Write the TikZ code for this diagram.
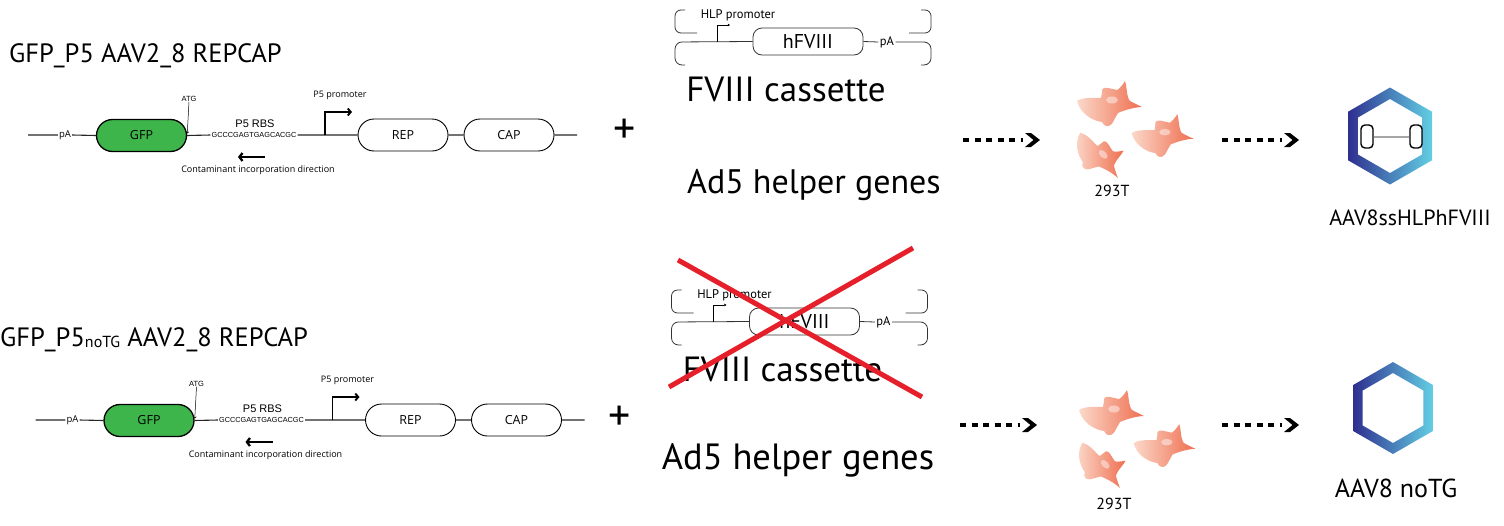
\documentclass[tikz,border=0pt]{standalone}
\usepackage{fontspec}
\setmainfont{PT Sans}
\newfontfamily\osans{Open Sans}
\newfontfamily\arialf{Liberation Sans}
\usetikzlibrary{arrows.meta,shapes.misc,calc}

\definecolor{gfpgreen}{HTML}{3DB54A}
\definecolor{crossred}{HTML}{E5202A}
\definecolor{hexdark}{HTML}{2E2F8F}
\definecolor{hexmid}{HTML}{3F7CC4}
\definecolor{hexlight}{HTML}{62CFE4}
\definecolor{celllight}{HTML}{FBD8C9}
\definecolor{celldark}{HTML}{EE6E4F}

\newcommand\fsz[1]{\fontsize{#1}{#1}\selectfont}

% outline of one 293T cell, centred on its body
\newcommand\cellpath{(-33,-2) .. controls (-30,10) and (-18,18) .. (-8,19)
  -- (-6,22) .. controls (-3,24) and (1,24) .. (4,17) -- (8,10)
  .. controls (17,6) and (27,4) .. (32,4) .. controls (26,1) and (21,-1) .. (19,-3)
  .. controls (16,-10) and (17,-17) .. (15,-22) .. controls (12,-17) and (9,-14) .. (7,-13)
  -- (-2,-15) .. controls (-6,-16) and (-9,-14) .. (-8,-11) -- (-9,-5)
  .. controls (-17,-5) and (-27,-6) .. (-33,-2) -- cycle}

% pointy-topped hexagon around a named coordinate
\newcommand\hexpath[2]{([shift={(90:#2)}]#1) -- ([shift={(30:#2)}]#1) -- ([shift={(-30:#2)}]#1)
  -- ([shift={(-90:#2)}]#1) -- ([shift={(-150:#2)}]#1) -- ([shift={(150:#2)}]#1) -- cycle}

\tikzset{
  wire/.style={line width=1.1pt, black!85},
  thinwire/.style={line width=0.8pt, black!80},
  gene/.style={rounded rectangle, draw=black, line width=0.9pt, minimum width=90pt,
    minimum height=32pt, inner sep=0pt, font=\osans\fsz{12.5}},
  gfpbox/.style={gene, fill=gfpgreen, line width=1.3pt},
  tag/.style={inner sep=1pt, font=\osans\fsz{9.5}},
  small/.style={inner sep=0pt, font=\osans\fsz{9}},
  atgtxt/.style={inner sep=0pt, font=\arialf\fsz{7.5}},
  rbstxt/.style={inner sep=0pt, font=\arialf\fsz{11}},
  seqtxt/.style={inner sep=1pt, font=\arialf\fsz{7.3}},
  promarrow/.style={line width=1.9pt, -{Straight Barb[length=3pt,width=7pt]}},
  contarrow/.style={line width=2.3pt, -{Straight Barb[length=3pt,width=8pt]}},
  atgarrow/.style={line width=0.5pt, -{Straight Barb[length=1.5pt,width=3pt]}},
  hlparrow/.style={line width=0.6pt, -{Triangle[length=2.2pt,width=2.6pt]}},
  fbox/.style={draw=black!80, line width=0.8pt, rounded corners=9pt, minimum width=110pt,
    minimum height=27pt, inner sep=0pt, font=\fsz{20}},
  fpa/.style={inner sep=1.5pt, font=\fsz{12.5}},
  hlptxt/.style={inner sep=0pt, font=\fsz{12.5}},
  cassettetxt/.style={inner sep=0pt, font=\fsz{35}},
  helpertxt/.style={inner sep=0pt, font=\fsz{#1}},
  title/.style={inner sep=0pt, font=\fsz{26.5}},
  plus/.style={inner sep=0pt, font=\fsz{44}},
  crossline/.style={crossred, line width=5pt},
  dotline/.style={line width=3.6pt, dash pattern=on 6pt off 5.5pt},
  celllabel/.style={inner sep=0pt, font=\fsz{16}},
  hexlabel/.style={inner sep=0pt, font=\fsz{#1}},
  hexring/.style={even odd rule, left color=hexdark, middle color=hexmid, right color=hexlight},
  itrend/.style={draw=black, line width=1.4pt, rounded corners=4pt, minimum width=12pt,
    minimum height=23pt, inner sep=0pt},
  barline/.style={line width=2pt, gray!70},
  cell/.pic={
    \path[left color=celllight, right color=celldark] \cellpath;
    \fill[white, opacity=.45] (2,-3) ellipse (6 and 3.5);
  }
}

% dotted arrow with a bold chevron head
\newcommand\dotarrow[3]{%
  \coordinate (#1-s) at (#2,#3);
  \coordinate (#1-e) at ({#2+60},#3);
  \draw[dotline] (#1-s) -- (#1-e);
  \fill ({#2+62},{#3-7}) -- ({#2+68},{#3-7}) -- ({#2+77},#3) -- ({#2+68},{#3+7})
    -- ({#2+62},{#3+7}) -- ({#2+70.5},#3) -- cycle;}

\begin{document}
\begin{tikzpicture}[x=1pt, y=-1pt]
\useasboundingbox (0,0) rectangle (1504,525);

% construct titles
\node[title, anchor=west] (t-title) at (9,56) {GFP\_P5 AAV2\_8 REPCAP};
\node[title, anchor=west] (b-title) at (0,340) {GFP\_P5\raisebox{-1pt}{\fsz{16}noTG} AAV2\_8 REPCAP};

% the two REP/CAP constructs
\foreach \p/\dx/\dy in {t/0/0, b/7.5/285}{
\begin{scope}[shift={(\dx,\dy)}]
  \coordinate (\p-L) at (28,135);
  \node[tag] (\p-pa) at (65,135) {pA};
  \node[gfpbox] (\p-gfp) at (141.5,135.5) {GFP};
  \node[seqtxt] (\p-seq) at (254,135) {GCCCGAGTGAGCACGC};
  \node[rbstxt] (\p-rbs) at (255,124) {P5 RBS};
  \node[atgtxt] (\p-atg) at (189,99) {ATG};
  \coordinate (\p-prm) at (325,135);
  \coordinate (\p-prmtip) at (352,112);
  \node[small] (\p-prmtxt) at (340,95) {P5 promoter};
  \node[gene] (\p-rep) at (403,135) {REP};
  \node[gene] (\p-cap) at (509,135) {CAP};
  \coordinate (\p-R) at (577,135);
  \draw[wire] (\p-L) -- (\p-pa.west) (\p-pa.east) -- (\p-gfp.west)
    (\p-gfp.east) -- (\p-seq.west) (\p-seq.east) -- (\p-rep.west)
    (\p-rep.east) -- (\p-cap.west) (\p-cap.east) -- (\p-R);
  \draw[promarrow] (\p-prm) |- (\p-prmtip);
  \draw[atgarrow, shorten >=2pt] (\p-atg.south) -- (\p-gfp.east);
  \coordinate (\p-ca) at (265,157);
  \coordinate (\p-cb) at (238,157);
  \draw[contarrow] (\p-ca) -- (\p-cb);
  \node[small] (\p-cont) at (258,170) {Contaminant incorporation direction};
\end{scope}}

\node[plus] (t-plus) at (625,131) {+};
\node[plus] (b-plus) at (620,418) {+};

% the two FVIII cassettes
\foreach \p/\dx/\dy in {t/0/0, b/-3.5/280}{
\begin{scope}[shift={(\dx,\dy)}]
  \node[fbox] (\p-hf) at (808,41.5) {hFVIII};
  \node[fpa] (\p-fpa) at (887,42) {pA};
  \node[hlptxt] (\p-hlp) at (738,15) {HLP promoter};
  \draw[thinwire, rounded corners=7pt] (\p-hf.west) -- (675,42) -- (675,65) -- (685,65);
  \draw[thinwire, rounded corners=6pt] (685,10) -- (675,10) -- (675,33) -- (697,33);
  \draw[thinwire, rounded corners=7pt] (\p-fpa.east) -- (931,42) -- (931,65) -- (921,65);
  \draw[thinwire, rounded corners=6pt] (921,10) -- (931,10) -- (931,33) -- (909,33);
  \draw[thinwire] (\p-hf.east) -- (\p-fpa.west);
  \coordinate (\p-hp) at (717,42);
  \coordinate (\p-hpt) at (730,25);
  \draw[hlparrow] (\p-hp) |- (\p-hpt);
  \node[cassettetxt] (\p-fc) at (786,89) {FVIII cassette};
\end{scope}}

\node[helpertxt=34] (t-ad5) at (814,185) {Ad5 helper genes};
\node[helpertxt=36.5] (b-ad5) at (798,460) {Ad5 helper genes};

% cassette struck out in the lower row
\coordinate (x1a) at (678,260);
\coordinate (x1b) at (922,397);
\coordinate (x2a) at (913,248);
\coordinate (x2b) at (669,387);
\draw[crossline] (x1a) -- (x1b) (x2a) -- (x2b);

% dotted arrows
\dotarrow{a1}{963}{140}
\dotarrow{a2}{1222}{140}
\dotarrow{a3}{960}{425}
\dotarrow{a4}{1222}{425}

% producer cells
\pic at (1110,103) {cell};
\pic[scale=.95] at (1163,135) {cell};
\pic[rotate=-45, scale=.9] at (1100,155) {cell};
\node[celllabel] (t-293) at (1112,191) {293T};
\pic at (1112,412) {cell};
\pic[scale=.95] at (1165,445) {cell};
\pic[rotate=-45, scale=.9] at (1102,465) {cell};
\node[celllabel] (b-293) at (1114,504) {293T};

% capsids
\coordinate (t-hex) at (1390,136);
\path[hexring] \hexpath{t-hex}{48.5} \hexpath{t-hex}{37};
\node[itrend] (t-dl) at (1367,136.5) {};
\node[itrend] (t-dr) at (1416,136.5) {};
\draw[barline] (t-dl.east) -- (t-dr.west);
\node[hexlabel=22] (t-aav) at (1410,218) {AAV8ssHLPhFVIII};

\coordinate (b-hex) at (1393,408);
\path[hexring] \hexpath{b-hex}{46} \hexpath{b-hex}{35};
\node[hexlabel=26] (b-aav) at (1396,488) {AAV8 noTG};
\end{tikzpicture}
\end{document}
